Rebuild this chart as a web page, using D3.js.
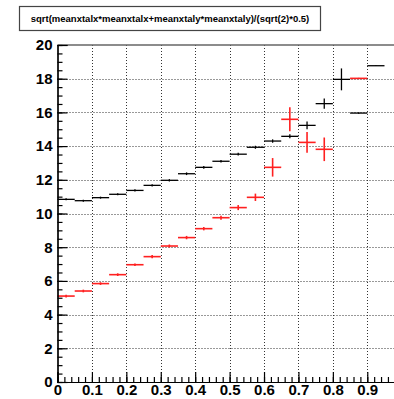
<!DOCTYPE html>
<html>
<head>
<meta charset="utf-8">
<script src="https://cdn.jsdelivr.net/npm/d3@7"></script>
<style>
  body { margin: 0; background: #fff; }
  svg { display: block; font-family: "Liberation Sans", Arial, sans-serif; }
</style>
</head>
<body>
<svg id="chart"></svg>
<script>
// bin edges: 20 bins of 0.05 from 0 to 1
const binLow = d3.range(20).map((i) => i * 0.05)
const binWidth = 0.05

// black series (null = empty bin)
const blackValues = [10.84, 10.76, 10.94, 11.14, 11.37, 11.67, 11.97, 12.36, 12.74, 13.1,
  13.52, 13.93, 14.3, 14.58, 15.23, 16.52, 17.96, 15.96, 18.77, null]
const blackErrors = [0.06, 0.06, 0.06, 0.06, 0.07, 0.07, 0.07, 0.08, 0.08, 0.08,
  0.08, 0.09, 0.1, 0.12, 0.23, 0.3, 0.65, 0.04, 0.02, 0]

// red series
const redValues = [5.1, 5.4, 5.84, 6.37, 6.96, 7.44, 8.07, 8.57, 9.1, 9.75,
  10.35, 10.96, 12.74, 15.59, 14.22, 13.81, null, 18.02, null, null]
const redErrors = [0.08, 0.08, 0.08, 0.08, 0.08, 0.09, 0.09, 0.1, 0.1, 0.12,
  0.15, 0.22, 0.55, 0.71, 0.61, 0.7, 0, 0.03, 0, 0]

const xTickLabels = [0, 0.1, 0.2, 0.3, 0.4, 0.5, 0.6, 0.7, 0.8, 0.9]
const yTickLabels = [0, 2, 4, 6, 8, 10, 12, 14, 16, 18, 20]
const title = "sqrt(meanxtalx*meanxtalx+meanxtaly*meanxtaly)/(sqrt(2)*0.5)"

const dimensions = {
  width: 394,
  height: 399,
  left: 57.5,
  top: 45,
  bottom: 382,
  right: 401.7,
}

const svg = d3.select("#chart")
  .attr("width", dimensions.width)
  .attr("height", dimensions.height)

const xScale = d3.scaleLinear().domain([0, 1]).range([dimensions.left, dimensions.right])
const yScale = d3.scaleLinear().domain([0, 20]).range([dimensions.bottom, dimensions.top])

// grid (dotted)
const grid = svg.append("g")
  .attr("stroke", "#333")
  .attr("stroke-width", 1)
  .attr("stroke-dasharray", "1,2")
grid.selectAll(".gx")
  .data(xTickLabels.filter((d) => d > 0))
  .join("line")
  .attr("x1", (d) => Math.round(xScale(d)) + 0.5)
  .attr("x2", (d) => Math.round(xScale(d)) + 0.5)
  .attr("y1", dimensions.top)
  .attr("y2", dimensions.bottom)
grid.selectAll(".gy")
  .data(yTickLabels.filter((d) => d > 0 && d < 20))
  .join("line")
  .attr("x1", dimensions.left)
  .attr("x2", dimensions.width)
  .attr("y1", (d) => Math.round(yScale(d)) + 0.5)
  .attr("y2", (d) => Math.round(yScale(d)) + 0.5)

// frame top
svg.append("line")
  .attr("x1", dimensions.left).attr("x2", dimensions.width)
  .attr("y1", dimensions.top).attr("y2", dimensions.top)
  .attr("stroke", "#666").attr("stroke-width", 1.5)

// histograms
function drawHist(values, errors, color, width) {
  const g = svg.append("g").attr("stroke", color).attr("stroke-width", width)
  const bins = binLow.map((lo, i) => ({ lo, v: values[i], e: errors[i] }))
    .filter((d) => d.v !== null)
  g.selectAll(".h")
    .data(bins)
    .join("line")
    .attr("x1", (d) => xScale(d.lo))
    .attr("x2", (d) => xScale(d.lo + binWidth))
    .attr("y1", (d) => yScale(d.v))
    .attr("y2", (d) => yScale(d.v))
  g.selectAll(".v")
    .data(bins)
    .join("line")
    .attr("x1", (d) => xScale(d.lo + binWidth / 2))
    .attr("x2", (d) => xScale(d.lo + binWidth / 2))
    .attr("y1", (d) => yScale(d.v - d.e))
    .attr("y2", (d) => yScale(d.v + d.e))
}
drawHist(blackValues, blackErrors, "#000", 1.3)
drawHist(redValues, redErrors, "#ff2020", 1.6)

// axes
const yAxis = d3.axisLeft(yScale).tickValues(yTickLabels).tickSize(-10).tickPadding(5)
const yMinor = d3.axisLeft(yScale).tickValues(d3.range(0, 20.01, 0.5)).tickSize(-5).tickFormat("")
const xAxis = d3.axisBottom(xScale).tickValues(xTickLabels).tickSize(-10).tickPadding(14)
  .tickFormat((d) => d === 0 ? "0" : d3.format(".1f")(d))
const xMinor = d3.axisBottom(xScale).tickValues(d3.range(0, 1.001, 0.02)).tickSize(-5).tickFormat("")

function styleAxis(g) {
  g.selectAll("path").attr("stroke", "#000").attr("stroke-width", 1.2)
  g.selectAll("line").attr("stroke", "#000").attr("stroke-width", 1.2)
  g.selectAll("text")
    .attr("fill", "#000")
    .style("font-size", "15px")
    .style("font-weight", "bold")
}

svg.append("g").attr("transform", `translate(${dimensions.left},0)`).call(yMinor).call(styleAxis)
svg.append("g").attr("transform", `translate(${dimensions.left},0)`).call(yAxis).call(styleAxis)
svg.append("g").attr("transform", `translate(0,${dimensions.bottom})`).call(xMinor).call(styleAxis)
svg.append("g").attr("transform", `translate(0,${dimensions.bottom})`).call(xAxis).call(styleAxis)
  .selectAll("text").attr("dy", "-0.05em")

// title box
svg.append("rect")
  .attr("x", 19.5).attr("y", 6.5).attr("width", 301).attr("height", 24)
  .attr("fill", "#fff").attr("stroke", "#444").attr("stroke-width", 1.2)
svg.append("text")
  .attr("x", 170).attr("y", 22)
  .attr("text-anchor", "middle")
  .style("font-size", "9.5px")
  .style("font-weight", "bold")
  .text(title)
</script>
</body>
</html>
